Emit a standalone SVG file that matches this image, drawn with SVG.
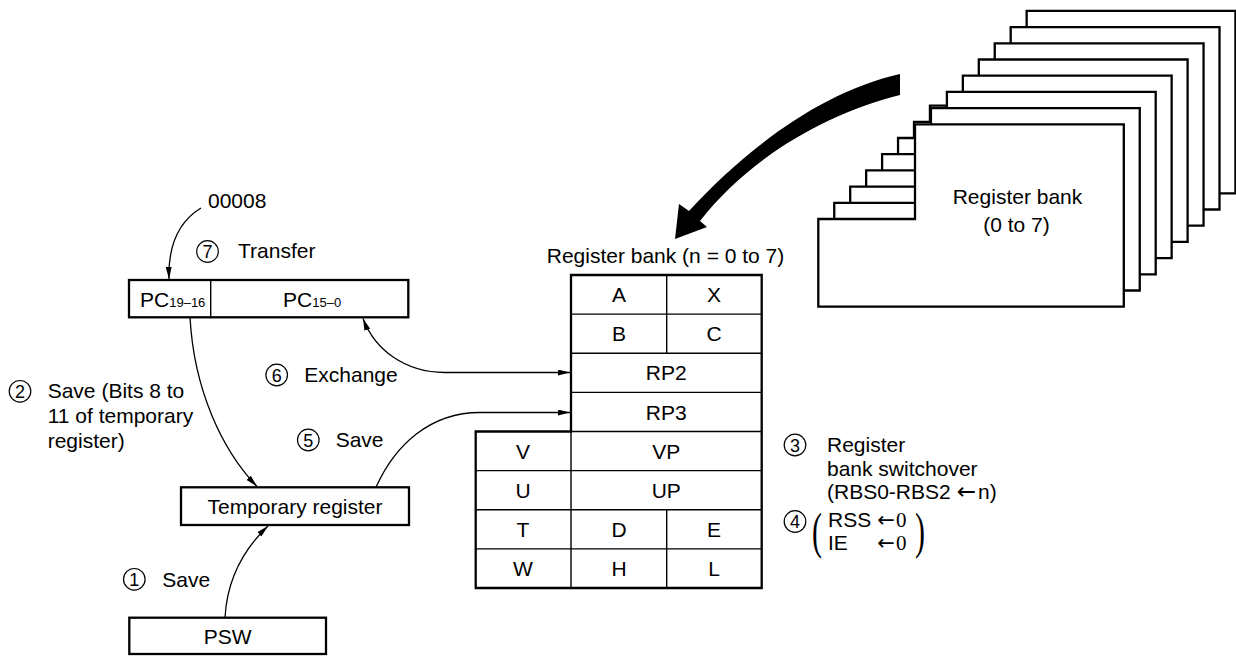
<svg xmlns="http://www.w3.org/2000/svg" width="1236" height="656" viewBox="0 0 1236 656">
<defs>
<style>
text{font-family:"Liberation Sans",Arial,sans-serif;font-size:21px;fill:#000}
.sub{font-size:13px}
.c{text-anchor:middle}
.box{fill:#fff;stroke:#000;stroke-width:2.3}
.cell{fill:none;stroke:#000;stroke-width:1.4}
.bank{fill:#fff;stroke:#000;stroke-width:2.3;stroke-linejoin:miter}
.num{fill:none;stroke:#000;stroke-width:1.2}
.numt{font-size:18px;text-anchor:middle}
.conn{fill:none;stroke:#000;stroke-width:1.3}
.ser{font-family:"Liberation Serif","Times New Roman",serif}
.arr{font-family:"DejaVu Sans",sans-serif;font-size:21px}
.arr2{font-family:"DejaVu Sans",sans-serif;font-size:23px}
</style>
<marker id="ah" viewBox="0 0 12 6" refX="12" refY="3" markerWidth="12" markerHeight="6" markerUnits="userSpaceOnUse" orient="auto-start-reverse">
<path d="M0,0 L12,3 L0,6 z" fill="#000"/>
</marker>
</defs>
<rect width="1236" height="656" fill="#fff"/>

<!-- stacked register banks (back to front) -->
<g id="bank-stack">
<polygon class="bank" transform="translate(111.65,-113.4)" points="915,124.3 1123.8,124.3 1123.8,306.7 818.3,306.7 818.3,219 915,219"/>
<polygon class="bank" transform="translate(95.7,-97.2)" points="915,124.3 1123.8,124.3 1123.8,306.7 818.3,306.7 818.3,219 915,219"/>
<polygon class="bank" transform="translate(79.75,-81)" points="915,124.3 1123.8,124.3 1123.8,306.7 818.3,306.7 818.3,219 915,219"/>
<polygon class="bank" transform="translate(63.8,-64.8)" points="915,124.3 1123.8,124.3 1123.8,306.7 818.3,306.7 818.3,219 915,219"/>
<polygon class="bank" transform="translate(47.85,-48.6)" points="915,124.3 1123.8,124.3 1123.8,306.7 818.3,306.7 818.3,219 915,219"/>
<polygon class="bank" transform="translate(31.9,-32.4)" points="915,124.3 1123.8,124.3 1123.8,306.7 818.3,306.7 818.3,219 915,219"/>
<polygon class="bank" transform="translate(15.95,-16.2)" points="915,124.3 1123.8,124.3 1123.8,306.7 818.3,306.7 818.3,219 915,219"/>
<polygon class="bank" points="915,124.3 1123.8,124.3 1123.8,306.7 818.3,306.7 818.3,219 915,219"/>
<text class="c" x="1017.5" y="204">Register bank</text>
<text class="c" x="1016.5" y="231.5">(0 to 7)</text>
</g>

<!-- big switchover arrow -->
<g id="switch-arrow">
<path d="M900,74 C820,92 745,150 689,211 L679,204 L675,239 L707,227 L700,221 C752,155 830,112 900,95 Z" fill="#000"/>
</g>

<!-- current register bank -->
<g id="register-bank">
<text class="c" x="665.5" y="262.7">Register bank (n = 0 to 7)</text>
<polygon class="box" points="571,275 761.7,275 761.7,588 475.7,588 475.7,431.5 571,431.5"/>
<path class="cell" d="M571,314.1H761.7M571,353.25H761.7M571,392.4H761.7M571,431.5H761.7M475.7,470.6H761.7M475.7,509.75H761.7M475.7,548.9H761.7M666.7,275V353.25M571,431.5V588M666.7,509.75V588"/>
<text class="c" x="619" y="302">A</text>
<text class="c" x="714" y="302">X</text>
<text class="c" x="619" y="341.2">B</text>
<text class="c" x="714" y="341.2">C</text>
<text class="c" x="666.3" y="380.3">RP2</text>
<text class="c" x="666.3" y="419.5">RP3</text>
<text class="c" x="523" y="458.5">V</text>
<text class="c" x="666.3" y="458.5">VP</text>
<text class="c" x="523" y="497.7">U</text>
<text class="c" x="666.3" y="497.7">UP</text>
<text class="c" x="523" y="536.8">T</text>
<text class="c" x="619" y="536.8">D</text>
<text class="c" x="714" y="536.8">E</text>
<text class="c" x="523" y="576">W</text>
<text class="c" x="619" y="576">H</text>
<text class="c" x="714" y="576">L</text>
</g>

<!-- PC -->
<g id="pc">
<rect class="box" x="129" y="280" width="279.3" height="37.3"/>
<line class="cell" x1="210.7" y1="280" x2="210.7" y2="317.3"/>
<text x="140" y="307">PC<tspan class="sub">19–16</tspan></text>
<text x="283" y="307">PC<tspan class="sub">15–0</tspan></text>
</g>

<!-- temporary register -->
<g id="temp-register">
<rect class="box" x="181" y="487.3" width="228" height="37.7"/>
<text class="c" x="295" y="513.7">Temporary register</text>
</g>

<!-- PSW -->
<g id="psw">
<rect class="box" x="129.3" y="617.7" width="196.7" height="36.3"/>
<text class="c" x="227.7" y="644">PSW</text>
</g>

<!-- connectors -->
<g id="connectors">
<path class="conn" d="M201,208 C178,222 168,245 169,279" marker-end="url(#ah)"/>
<path class="conn" d="M190,317.3 C194,390 222,450 257,486.5" marker-end="url(#ah)"/>
<path class="conn" d="M225,617.7 C227,580 243,550 268,526" marker-end="url(#ah)"/>
<path class="conn" d="M376,487.3 C395,445 430,412.5 480,412.5 L570,412.5" marker-end="url(#ah)"/>
<path class="conn" d="M363,318.5 C375,350 405,372.5 445,372.5 L570,372.5" marker-start="url(#ah)" marker-end="url(#ah)"/>
</g>

<!-- step labels -->
<g id="label-7">
<text x="208" y="208.3">00008</text>
<circle class="num" cx="207.5" cy="251.5" r="10.8"/>
<text class="numt" x="207.5" y="258">7</text>
<text x="238" y="258">Transfer</text>
</g>
<g id="label-2">
<circle class="num" cx="20" cy="391.3" r="10.8"/>
<text class="numt" x="20" y="397.8">2</text>
<text x="47.7" y="398.3">Save (Bits 8 to</text>
<text x="47.7" y="423">11 of temporary</text>
<text x="47.7" y="447.5">register)</text>
</g>
<g id="label-6">
<circle class="num" cx="276.7" cy="375" r="10.8"/>
<text class="numt" x="276.7" y="381.5">6</text>
<text x="304.3" y="382.3">Exchange</text>
</g>
<g id="label-5">
<circle class="num" cx="308.3" cy="440" r="10.8"/>
<text class="numt" x="308.3" y="446.5">5</text>
<text x="335.7" y="447.3">Save</text>
</g>
<g id="label-1">
<circle class="num" cx="134.3" cy="579.3" r="10.8"/>
<text class="numt" x="134.3" y="585.8">1</text>
<text x="162.3" y="586.7">Save</text>
</g>
<g id="label-3">
<circle class="num" cx="795" cy="445" r="10.8"/>
<text class="numt" x="795" y="451.5">3</text>
<text x="827" y="452">Register</text>
<text x="827" y="475.5">bank switchover</text>
<text x="827" y="498.5">(RBS0-RBS2<tspan class="arr2" x="949.5"> ←</tspan> <tspan x="978">n)</tspan></text>
</g>
<g id="label-4">
<circle class="num" cx="795" cy="521.5" r="10.8"/>
<text class="ser" transform="translate(812,548) scale(0.6,1)" style="font-size:50px">(</text>
<text class="ser" transform="translate(915,548) scale(0.6,1)" style="font-size:50px">)</text>
<text class="numt" x="795" y="528">4</text>
<text x="828" y="526.5">RSS<tspan class="arr" x="870.5"> ←</tspan> <tspan class="ser" x="896">0</tspan></text>
<text x="828" y="550">IE<tspan class="arr" x="870.5"> ←</tspan> <tspan class="ser" x="896">0</tspan></text>
</g>
</svg>
